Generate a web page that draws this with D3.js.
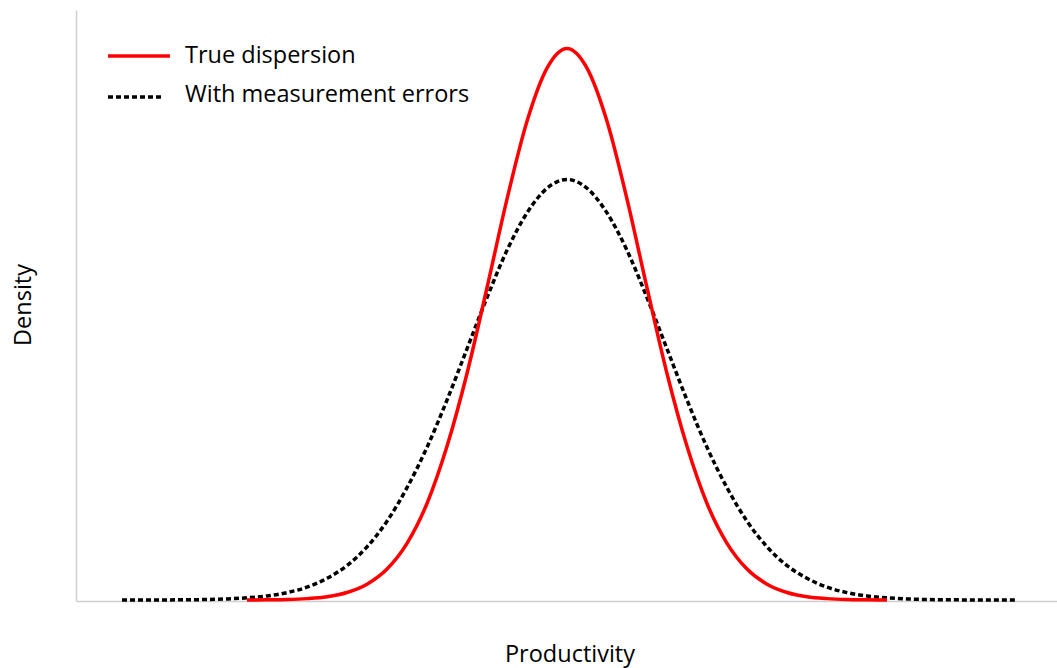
<!DOCTYPE html>
<html>
<head>
<meta charset="utf-8">
<script src="https://cdn.jsdelivr.net/npm/d3@7"></script>
<style>
  body { margin: 0; background: #fff; }
  svg { display: block; font-family: "Open Sans", "Noto Sans", sans-serif; }
</style>
</head>
<body>
<svg id="chart" width="1057" height="668"></svg>
<script>
// Productivity grid (arbitrary units, 0 = mode)
const trueX = [-3.2,-3.0,-2.8,-2.6,-2.4,-2.2,-2.0,-1.8,-1.6,-1.4,-1.2,-1.0,-0.8,-0.6,-0.4,-0.2,0,
  0.2,0.4,0.6,0.8,1.0,1.2,1.4,1.6,1.8,2.0,2.2,2.4,2.6,2.8,3.0,3.2];
const trueY = [0,0.0002,0.0005,0.0014,0.0033,0.0076,0.016,0.0314,0.0575,0.098,0.156,0.23,0.317,0.407,0.486,0.54,0.56,
  0.54,0.486,0.407,0.317,0.23,0.156,0.098,0.0575,0.0314,0.016,0.0076,0.0033,0.0014,0.0005,0.0002,0];

const errX = [-4.45,-4.2,-4.0,-3.8,-3.6,-3.4,-3.2,-3.0,-2.8,-2.6,-2.4,-2.2,-2.0,-1.8,-1.6,-1.4,-1.2,-1.0,-0.8,-0.6,-0.4,-0.2,0,
  0.2,0.4,0.6,0.8,1.0,1.2,1.4,1.6,1.8,2.0,2.2,2.4,2.6,2.8,3.0,3.2,3.4,3.6,3.8,4.0,4.2,4.48];
const errY = [0,0,0.0001,0.0002,0.0005,0.0011,0.0022,0.0041,0.0075,0.013,0.022,0.035,0.054,0.08,0.114,0.155,0.203,0.255,0.307,0.355,0.393,0.418,0.427,
  0.418,0.393,0.355,0.307,0.255,0.203,0.155,0.114,0.08,0.054,0.035,0.022,0.013,0.0075,0.0041,0.0022,0.0011,0.0005,0.0002,0.0001,0,0];

const seriesNames = ["True dispersion", "With measurement errors"];

const svg = d3.select('#chart');
const M = { left: 76, right: 1057, top: 10, bottom: 601 };

const x = d3.scaleLinear().domain([-4.91, 4.90]).range([M.left, M.right]);
const y = d3.scaleLinear().domain([0, 0.6]).range([M.bottom, M.top]);

// axes: bare lines, no ticks
svg.append('g').attr('transform', `translate(0,${M.bottom})`)
  .call(d3.axisBottom(x).ticks(0).tickSizeOuter(0))
  .call(g => g.select('.domain').attr('stroke', '#d0d0d0').attr('stroke-width', 1.5));
svg.append('g').attr('transform', `translate(${M.left},0)`)
  .call(d3.axisLeft(y).ticks(0).tickSizeOuter(0))
  .call(g => g.select('.domain').attr('stroke', '#d0d0d0').attr('stroke-width', 1.5));

const line = d3.line().x(d => x(d[0])).y(d => y(d[1]) - 1).curve(d3.curveMonotoneX);

svg.append('path')
  .datum(d3.zip(errX, errY))
  .attr('d', line)
  .attr('fill', 'none').attr('stroke', '#000').attr('stroke-width', 3.5)
  .attr('stroke-dasharray', '5,3');

svg.append('path')
  .datum(d3.zip(trueX, trueY))
  .attr('d', line)
  .attr('fill', 'none').attr('stroke', '#ff0000').attr('stroke-width', 3.5);

// legend
const leg = svg.append('g');
leg.append('line').attr('x1', 108).attr('x2', 170).attr('y1', 56).attr('y2', 56)
  .attr('stroke', '#ff0000').attr('stroke-width', 3.5);
leg.append('line').attr('x1', 108).attr('x2', 164).attr('y1', 97).attr('y2', 97)
  .attr('stroke', '#000').attr('stroke-width', 3.5).attr('stroke-dasharray', '5,3');
leg.selectAll('text').data(seriesNames).join('text')
  .attr('x', 185).attr('y', (d, i) => 63 + i * 39)
  .attr('font-size', 23.5).attr('fill', '#000')
  .text(d => d);

// axis titles
svg.append('text').attr('x', 570).attr('y', 662).attr('text-anchor', 'middle')
  .attr('font-size', 23.5).text('Productivity');
svg.append('text').attr('transform', 'translate(31,305) rotate(-90)').attr('text-anchor', 'middle')
  .attr('font-size', 23.5).text('Density');
</script>
</body>
</html>
